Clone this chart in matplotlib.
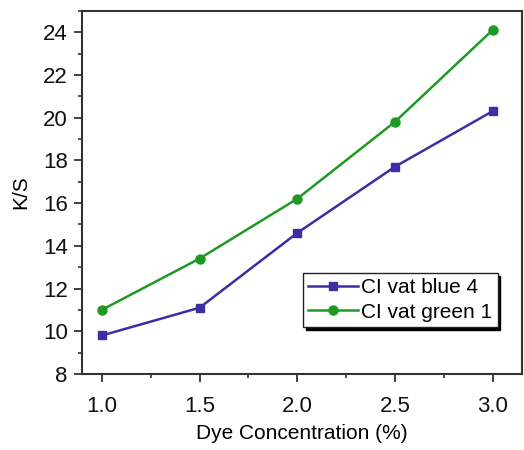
import matplotlib
matplotlib.use('Agg')
import matplotlib.pyplot as plt
from matplotlib.ticker import MultipleLocator

plt.rcParams['font.family'] = ['Liberation Sans', 'DejaVu Sans']

# data
conc = [1.0, 1.5, 2.0, 2.5, 3.0]
blue4 = [9.8, 11.1, 14.6, 17.7, 20.3]
green1 = [11.0, 13.4, 16.2, 19.8, 24.1]

fig = plt.figure(figsize=(5.24, 4.5), dpi=100)
ax = fig.add_axes([0.156, 0.169, 0.840, 0.807])

ax.plot(conc, blue4, color='#3b2fa3', marker='s', markersize=6, lw=1.8,
        label='CI vat blue 4')
ax.plot(conc, green1, color='#1e9a24', marker='o', markersize=6.5, lw=1.8,
        label='CI vat green 1')

ax.set_xlim(0.897, 3.15)
ax.set_ylim(8, 25.0)
ax.xaxis.set_major_locator(MultipleLocator(0.5))
ax.xaxis.set_minor_locator(MultipleLocator(0.25))
ax.yaxis.set_major_locator(MultipleLocator(2))
ax.yaxis.set_minor_locator(MultipleLocator(1))
ax.xaxis.set_major_formatter(plt.FormatStrFormatter('%.1f'))

for s in ax.spines.values():
    s.set_linewidth(1.5)
    s.set_color('#333333')
ax.tick_params(which='major', length=6, width=1.3, labelsize=16, colors='#333333', labelcolor='#111111')
ax.tick_params(which='minor', length=3, width=1.2, colors='#333333')
ax.tick_params(axis='x', pad=10)
ax.tick_params(axis='y', pad=4)

ax.set_xlabel('Dye Concentration (%)', fontsize=15, labelpad=5)
ax.set_ylabel('K/S', fontsize=15, labelpad=9)

leg = ax.legend(loc='lower right', bbox_to_anchor=(0.945, 0.13), fontsize=15,
                fancybox=False, shadow={'color': 'black', 'alpha': 1},
                framealpha=1, edgecolor='#222222', handlelength=2.4,
                handletextpad=0.15, borderpad=0.25, labelspacing=0.25,
                borderaxespad=0)
leg.get_frame().set_linewidth(1.0)

fig.savefig('out.png', dpi=100)
